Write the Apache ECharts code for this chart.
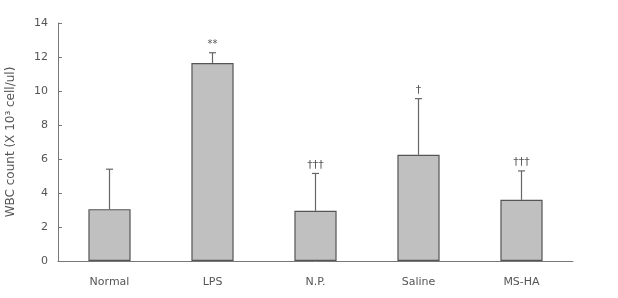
<!DOCTYPE html>
<html>
<head>
<meta charset="utf-8">
<script src="https://cdn.jsdelivr.net/npm/echarts@6/dist/echarts.min.js"></script>
<style>html,body{margin:0;padding:0;background:#fff}#c{width:618px;height:298px}</style>
</head>
<body>
<div id="c"></div>
<script>
var categories = ['Normal', 'LPS', 'N.P.', 'Saline', 'MS-HA'];
var means = [3.05, 11.65, 2.95, 6.25, 3.6];
var upper = [5.4, 12.25, 5.15, 9.55, 5.3];
var marks = ['', '**', '†††', '†', '†††'];
var yTicks = [0, 2, 4, 6, 8, 10, 12, 14];

var chart = echarts.init(document.getElementById('c'));
var errData = categories.map(function (c, i) { return [i, means[i], upper[i], marks[i]]; });
chart.setOption({
  animation: false,
  grid: { left: 58, right: 45, top: 23, bottom: 37, containLabel: false, outerBoundsMode: 'none' },
  xAxis: {
    type: 'category',
    data: categories,
    axisLine: { lineStyle: { color: '#777', width: 1 } },
    axisTick: { inside: true, length: 4, lineStyle: { color: '#777' } },
    axisLabel: { color: '#555', fontSize: 11, margin: 16, fontFamily: 'DejaVu Sans' }
  },
  yAxis: {
    type: 'value',
    min: 0, max: 14, interval: 2,
    name: 'WBC count (X 10³ cell/ul)',
    nameLocation: 'middle',
    nameGap: 41,
    nameTextStyle: { color: '#555', fontSize: 12, fontFamily: 'DejaVu Sans' },
    splitLine: { show: false },
    axisLine: { show: true, lineStyle: { color: '#777', width: 1 } },
    axisTick: { show: true, inside: true, length: 4, lineStyle: { color: '#777' } },
    axisLabel: { color: '#555', fontSize: 11, margin: 10, fontFamily: 'DejaVu Sans',
      formatter: function (v) { return yTicks.indexOf(v) >= 0 ? String(v) : ''; } }
  },
  series: [
    {
      type: 'bar',
      data: means,
      barWidth: '41%',
      itemStyle: { color: '#c0c0c0', borderColor: '#555', borderWidth: 1.2 }
    },
    {
      type: 'custom',
      data: errData,
      z: 10,
      renderItem: function (params, api) {
        var x = api.value(0);
        var p0 = api.coord([x, api.value(1)]);
        var p1 = api.coord([x, api.value(2)]);
        var m = marks[params.dataIndex];
        var ch = [
          { type: 'line', shape: { x1: p0[0], y1: p0[1], x2: p1[0], y2: p1[1] }, style: { stroke: '#666', lineWidth: 1.2 } },
          { type: 'line', shape: { x1: p1[0] - 3.5, y1: p1[1], x2: p1[0] + 3.5, y2: p1[1] }, style: { stroke: '#666', lineWidth: 1.2 } }
        ];
        if (m) {
          ch.push({ type: 'text', x: p1[0], y: p1[1] - 3,
            style: { text: m, fill: '#555', fontSize: m === '**' ? 10 : 11, fontFamily: 'DejaVu Sans', align: 'center', verticalAlign: 'bottom' } });
        }
        return { type: 'group', children: ch };
      }
    }
  ]
});
</script>
</body>
</html>
